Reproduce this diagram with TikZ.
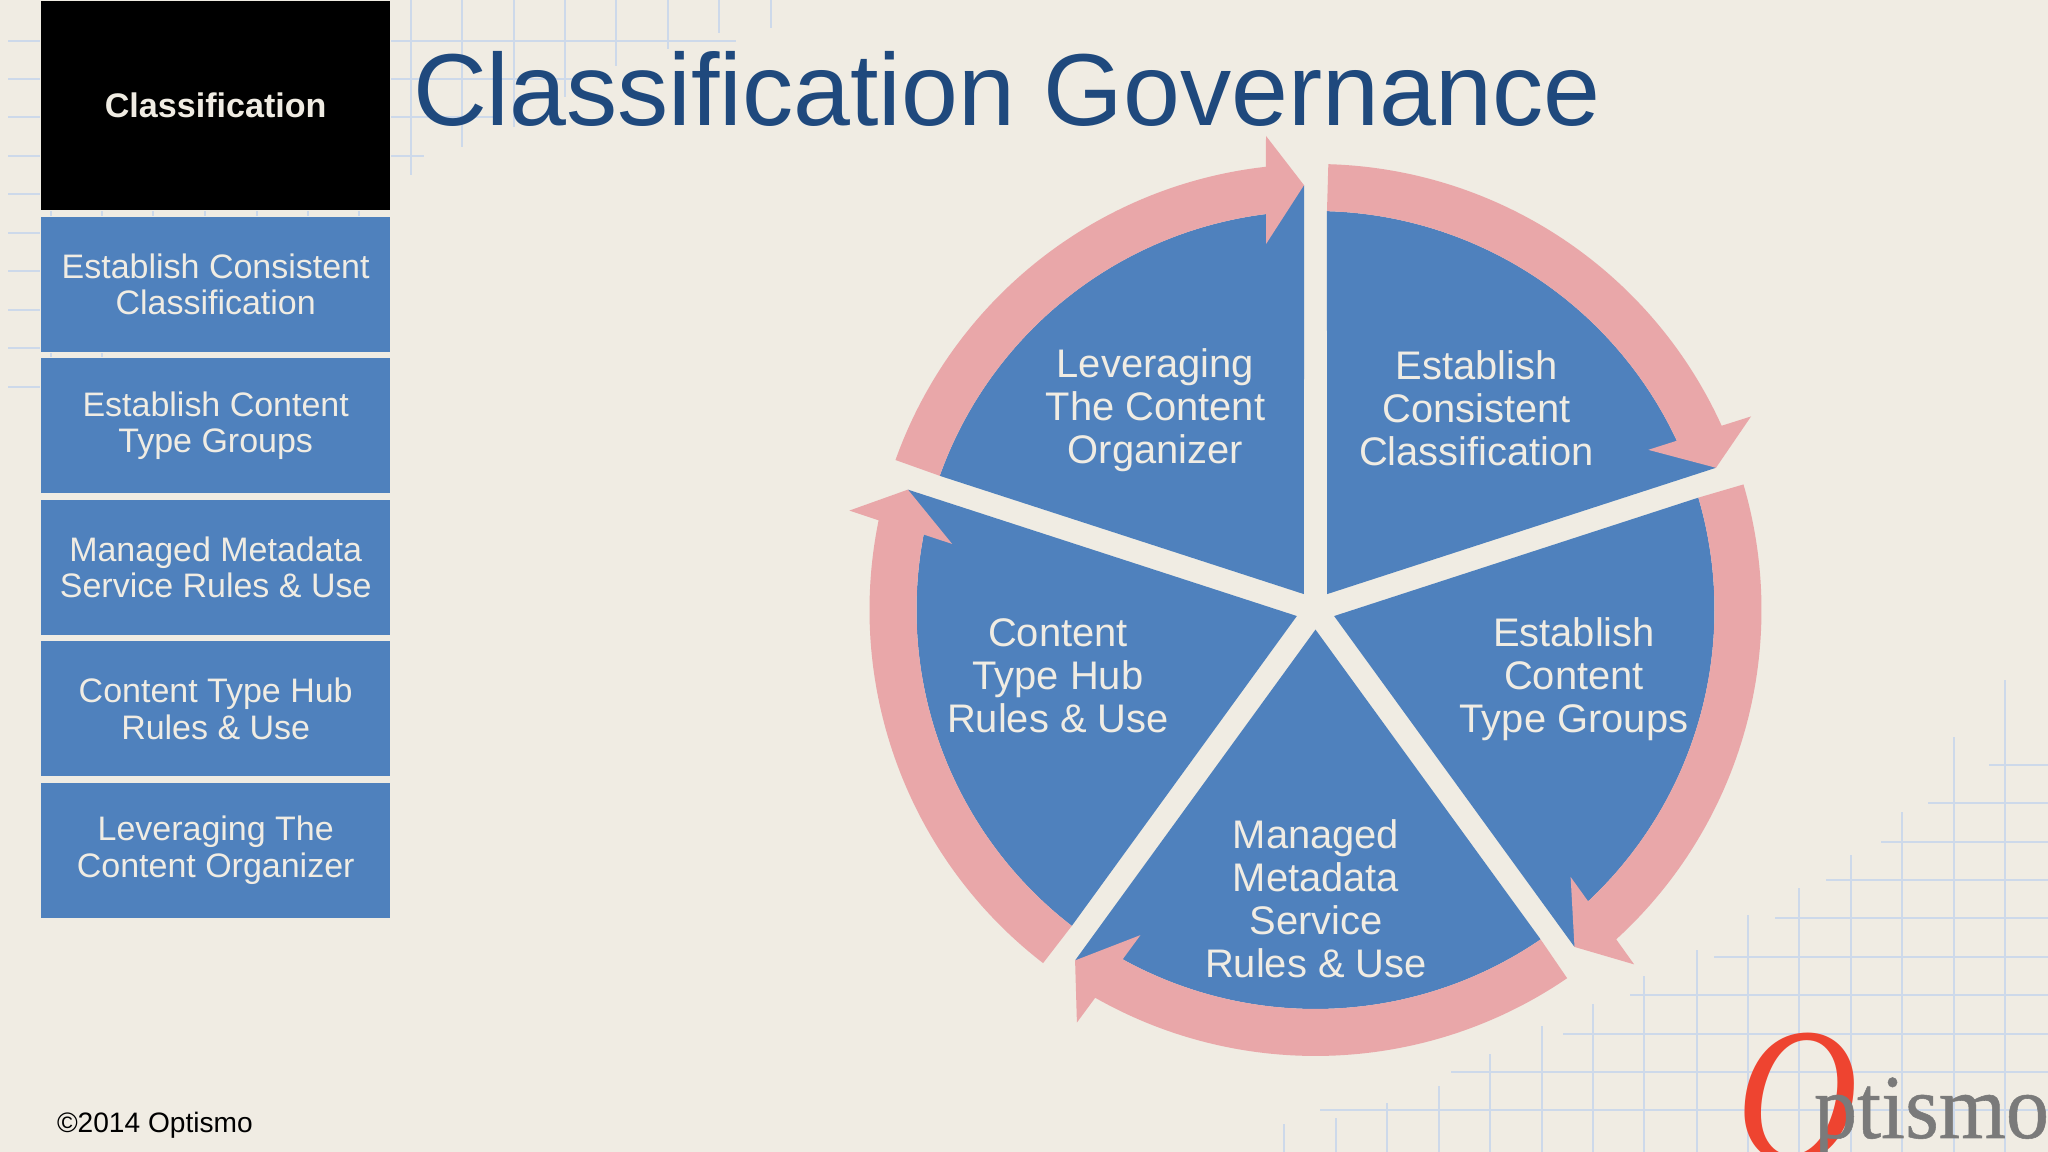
\documentclass[tikz,border=0pt]{standalone}
\usepackage{fontspec}
\setmainfont{Liberation Sans}
\newfontfamily\logofont{Liberation Serif}
\newfontfamily\logoheavy[FakeBold=0.6]{Liberation Serif}
\definecolor{paper}{HTML}{F0ECE3}
\definecolor{gridblue}{HTML}{CDD9EA}
\definecolor{boxblue}{HTML}{4F81BD}
\definecolor{ringpink}{HTML}{E9A7A9}
\definecolor{titleblue}{HTML}{1F497D}
\definecolor{logored}{HTML}{EE4430}
\definecolor{logogrey}{HTML}{7A7A7A}

\begin{document}
\begin{tikzpicture}[node distance=1.414cm, line width=0.02cm]
          \tikzstyle{menubox}=[fill=boxblue,draw=paper,line width=0.3pt,text=paper,minimum width=3.5cm,minimum height=1.36cm,inner sep=0pt,align=center,font=\fontsize{9.67}{10.4}\selectfont]
          \tikzstyle{toplabel}=[menubox,fill=black,minimum height=2.1cm,font=\fontsize{9.7}{10.4}\selectfont\bfseries]
          \tikzstyle{wedgelabel}=[text=paper,align=center,inner sep=0pt,font=\fontsize{11.35}{12.2}\selectfont]
          \tikzstyle{gridline}=[draw=gridblue]

          \useasboundingbox (0,0) rectangle (20.48,11.52);
          \fill[paper] (0,0) rectangle (20.48,11.52);

          \foreach \x/\t in {12.84/0.28,13.36/0.34,13.87/0.49,14.39/0.66,14.90/0.98,15.42/1.26,15.93/1.48,16.44/1.76,16.97/2.02,17.48/2.37,17.99/2.64,18.51/2.97,19.02/3.40,19.54/4.15,20.05/4.72}
             \draw[gridline] (\x,0) -- (\x,\t);
          \foreach \y/\s in {3.87/19.89,3.49/19.28,3.10/18.81,2.72/18.26,2.34/17.75,1.95/17.14,1.57/16.30,1.18/15.63,0.80/14.51,0.42/13.20}
             \draw[gridline] (\s,\y) -- (20.48,\y);
          \foreach \x/\t in {0.51/7.82,1.02/7.94,1.53/9.35,2.05/9.35,2.57/9.35,3.08/9.35,3.59/9.35,4.11/9.77,4.62/10.05,5.14/10.25,5.65/10.55,6.16/10.86,6.68/11.03,7.19/11.19,7.71/11.24}
             \draw[gridline] (\x,11.52) -- (\x,\t);
          \foreach \y/\e in {11.11/7.36,10.73/5.80,10.35/5.00,9.96/4.24,9.58/0.5,9.19/0.5,8.81/0.5,8.42/0.5,8.04/0.5,7.65/0.5}
             \draw[gridline] (0.08,\y) -- (\e,\y);

          \coordinate (C) at (13.155,5.42);

          \foreach \a in {90,18,-54,-126,162} {
             \begin{scope}[shift={(C)},rotate=\a]
                \fill[boxblue] (-36:0.196) -- (-1.65:3.99) arc (-1.65:-64.9:3.99) -- (-70.45:4.25) -- cycle;
             \end{scope}
          }
          \foreach \a in {0,-72,-144,-216,-288} {
             \begin{scope}[shift={(C)},rotate=\a]
                \fill[ringpink] (160.35:4.46) arc (160.35:96.4:4.46) -- (95.96:4.766) -- (91.55:4.25) -- (97.7:3.693) -- (97.1:3.99) arc (97.1:160.35:3.99) -- cycle;
             \end{scope}
          }

          \node[toplabel] (A) at (2.157,10.465) {Classification};
          \node[menubox]  (B) at (2.157,8.675) {Establish Consistent\\Classification};
          \node[menubox]  (D) [below of=B] {Establish Content\\Type Groups};
          \node[menubox]  (E) [below of=D] {Managed Metadata\\Service Rules \& Use};
          \node[menubox]  (F) [below of=E] {Content Type Hub\\Rules \& Use};
          \node[menubox]  (G) [below of=F] {Leveraging The\\Content Organizer};

          \node[wedgelabel] (W1) at (14.765,7.44) {Establish\\Consistent\\Classification};
          \node[wedgelabel] (W2) at (15.74,4.73) {Establish\\Content\\Type Groups};
          \node[wedgelabel] (W3) at (13.16,2.53) {Managed\\Metadata\\Service\\Rules \& Use};
          \node[wedgelabel] (W4) at (10.58,4.765) {Content\\Type Hub\\Rules \& Use};
          \node[wedgelabel] (W5) at (11.555,7.415) {Leveraging\\The Content\\Organizer};

          \node[anchor=base west,inner sep=0pt,text=titleblue,font=\fontsize{29.1}{29}\selectfont] (T) at (4.12,10.26) {Classification Governance};
          \node[anchor=base west,inner sep=0pt,font=\fontsize{8}{8}\selectfont] (R) at (0.56,0.19) {©2014 Optismo};

          \begin{scope}
             \clip (0,0) rectangle (20.48,11.52);
             \node[anchor=center,inner sep=0pt,text=logored,yscale=1.15,font=\logofont\itshape\fontsize{48}{48}\selectfont] (L) at (17.97,0.54) {O};
             \node[anchor=base west,inner sep=0pt,text=logogrey,xscale=0.945,font=\logoheavy\fontsize{26}{26}\selectfont] (P) at (18.13,0.14) {ptismo};
          \end{scope}
        \end{tikzpicture}
\end{document}
